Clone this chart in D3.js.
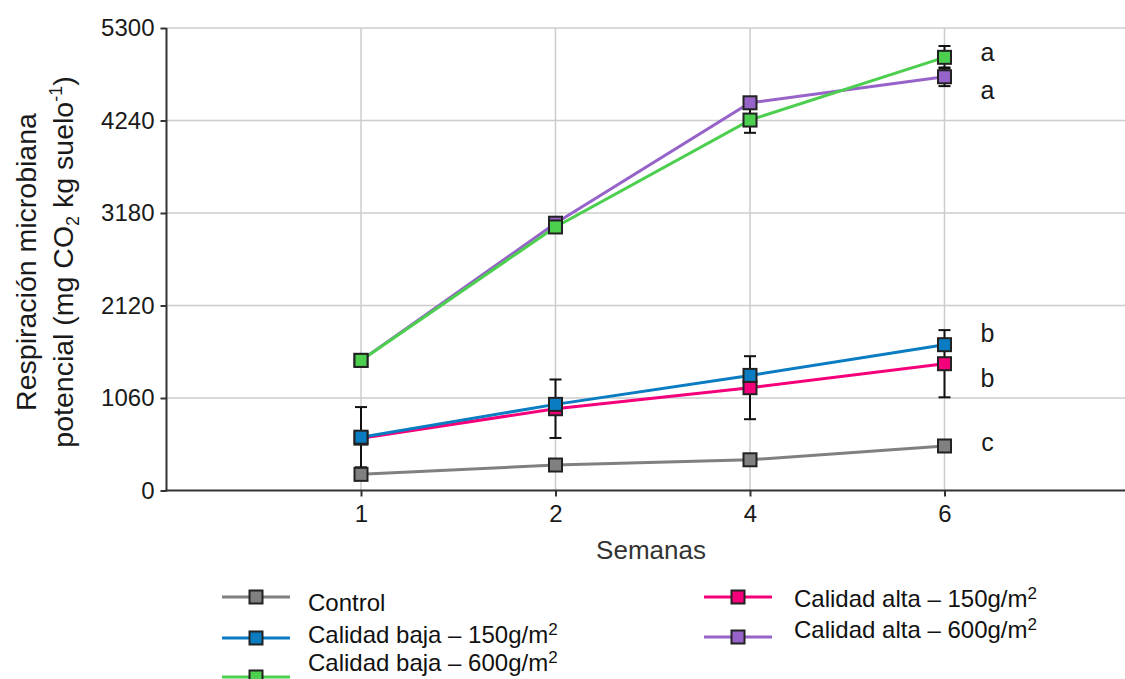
<!DOCTYPE html>
<html>
<head>
<meta charset="utf-8">
<script src="https://cdn.jsdelivr.net/npm/d3@7"></script>
<style>
  html, body { margin: 0; padding: 0; background: #fff; }
  svg { display: block; font-family: "Liberation Sans", Arial, sans-serif; }
</style>
</head>
<body>
<svg id="chart" width="1125" height="679"></svg>
<script>
// ---- data ----
const weeks = ["1", "2", "4", "6"];
const yTicks = [0, 1060, 2120, 3180, 4240, 5300];

const seriesNames = ["Control", "Calidad baja – 150g/m", "Calidad baja – 600g/m", "Calidad alta – 150g/m", "Calidad alta – 600g/m"];
const seriesColors = ["#808080", "#0a7cc1", "#4ccf4f", "#f5007b", "#9664c8"];

const controlValues = [185, 292, 352, 510];
const baja150Values = [611, 987, 1319, 1671];
const baja600Values = [1491, 3020, 4245, 4964];
const alta150Values = [600, 937, 1178, 1453];
const alta600Values = [1491, 3063, 4443, 4741];

const controlErr = [0, 0, 0, 0];
const baja150Err = [345, 0, 0, 0];
const baja600Err = [0, 0, 146, 130];
const alta150Err = [0, 335, 361, 385];
const alta600Err = [0, 0, 0, 107];

const letters = ["a", "a", "b", "b", "c"];
const letterValues = [5025, 4590, 1801, 1290, 551];

// ---- layout ----
const svg = d3.select("#chart");
const plotLeft = 166.5, plotTop = 28, plotBottom = 490.5, step = 194.5;
const x = d3.scalePoint().domain(weeks).range([plotLeft, plotLeft + 5 * step]).padding(1);
const y = d3.scaleLinear().domain([0, 5300]).range([plotBottom, plotTop]);

const series = [
  { name: seriesNames[0], color: seriesColors[0], values: controlValues, err: controlErr },
  { name: seriesNames[1], color: seriesColors[1], values: baja150Values, err: baja150Err },
  { name: seriesNames[2], color: seriesColors[2], values: baja600Values, err: baja600Err },
  { name: seriesNames[3], color: seriesColors[3], values: alta150Values, err: alta150Err },
  { name: seriesNames[4], color: seriesColors[4], values: alta600Values, err: alta600Err }
];
// draw order: control, alta150, baja150, alta600, baja600
const drawOrder = [0, 3, 1, 4, 2];

// gridlines
svg.append("g").selectAll("line").data(yTicks.filter(d => d > 0)).join("line")
  .attr("x1", plotLeft).attr("x2", 1125).attr("y1", d => y(d)).attr("y2", d => y(d))
  .attr("stroke", "#cccccc").attr("stroke-width", 1.5);
svg.append("g").selectAll("line").data(weeks).join("line")
  .attr("x1", d => x(d)).attr("x2", d => x(d)).attr("y1", plotTop).attr("y2", plotBottom)
  .attr("stroke", "#cccccc").attr("stroke-width", 1.5);

// axes
const yAxis = svg.append("g").attr("transform", `translate(${plotLeft},0)`)
  .call(d3.axisLeft(y).tickValues(yTicks).tickSize(6).tickPadding(6).tickFormat(d3.format("d")));
const xAxis = svg.append("g").attr("transform", `translate(0,${plotBottom})`)
  .call(d3.axisBottom(x).tickSize(6).tickPadding(8));
[yAxis, xAxis].forEach(a => {
  a.select(".domain").remove();
  a.selectAll(".tick line").attr("stroke", "#333").attr("stroke-width", 2);
  a.selectAll(".tick text").attr("fill", "#1a1a1a").style("font-size", "24px")
    .style("font-family", "'Liberation Sans', Arial, sans-serif");
});
svg.append("line").attr("x1", plotLeft).attr("x2", plotLeft).attr("y1", plotTop).attr("y2", plotBottom + 1)
  .attr("stroke", "#333").attr("stroke-width", 2);
svg.append("line").attr("x1", plotLeft - 1).attr("x2", 1125).attr("y1", plotBottom).attr("y2", plotBottom)
  .attr("stroke", "#333").attr("stroke-width", 2);

// lines
const line = d3.line().x((d, i) => x(weeks[i])).y(d => y(d));
drawOrder.forEach(k => {
  const s = series[k];
  svg.append("path").datum(s.values).attr("d", line)
    .attr("fill", "none").attr("stroke", s.color).attr("stroke-width", 3);
});

// error bars
drawOrder.forEach(k => {
  const s = series[k];
  const g = svg.append("g").attr("stroke", "#111").attr("stroke-width", 2);
  s.values.forEach((v, i) => {
    const e = s.err[i];
    if (!e) return;
    const cx = x(weeks[i]);
    g.append("line").attr("x1", cx).attr("x2", cx).attr("y1", y(v - e)).attr("y2", y(v + e));
    g.append("line").attr("x1", cx - 6).attr("x2", cx + 6).attr("y1", y(v - e)).attr("y2", y(v - e));
    g.append("line").attr("x1", cx - 6).attr("x2", cx + 6).attr("y1", y(v + e)).attr("y2", y(v + e));
  });
});

// markers
const ms = 13;
drawOrder.forEach(k => {
  const s = series[k];
  svg.append("g").selectAll("rect").data(s.values).join("rect")
    .attr("x", (d, i) => x(weeks[i]) - ms / 2).attr("y", d => y(d) - ms / 2)
    .attr("width", ms).attr("height", ms)
    .attr("fill", s.color).attr("stroke", "#222").attr("stroke-width", 2);
});

// significance letters
svg.append("g").selectAll("text").data(letters).join("text")
  .attr("x", x("6") + 43).attr("y", (d, i) => y(letterValues[i]))
  .attr("dy", "0.35em").attr("text-anchor", "middle")
  .attr("fill", "#1a1a1a").style("font-size", "25px").text(d => d);

// axis titles
svg.append("text").attr("x", 651).attr("y", 559).attr("text-anchor", "middle")
  .attr("fill", "#333").style("font-size", "26px").text("Semanas");

const yt = svg.append("g").attr("transform", "translate(0,262) rotate(-90)");
yt.append("text").attr("x", 0).attr("y", 36).attr("text-anchor", "middle")
  .attr("fill", "#1a1a1a").style("font-size", "28.5px").text("Respiración microbiana");
const t2 = yt.append("text").attr("x", 0).attr("y", 73).attr("text-anchor", "middle")
  .attr("fill", "#1a1a1a").style("font-size", "28.5px");
t2.append("tspan").text("potencial (mg CO");
t2.append("tspan").attr("dy", 6).style("font-size", "18px").text("2");
t2.append("tspan").attr("dy", -6).text(" kg suelo");
t2.append("tspan").attr("dy", -11).style("font-size", "18px").text("-1");
t2.append("tspan").attr("dy", 11).text(")");

// legend
const legendItems = [
  { k: 0, sx: 222, sy: 597, tx: 308, ty: 611, sup: false },
  { k: 1, sx: 222, sy: 638, tx: 308, ty: 643, sup: true },
  { k: 2, sx: 222, sy: 677, tx: 308, ty: 671, sup: true },
  { k: 3, sx: 704, sy: 597, tx: 794, ty: 607, sup: true },
  { k: 4, sx: 704, sy: 637, tx: 794, ty: 638, sup: true }
];
const lg = svg.append("g");
legendItems.forEach(it => {
  const s = series[it.k];
  lg.append("line").attr("x1", it.sx).attr("x2", it.sx + 68).attr("y1", it.sy).attr("y2", it.sy)
    .attr("stroke", s.color).attr("stroke-width", 3);
  lg.append("rect").attr("x", it.sx + 34 - ms / 2).attr("y", it.sy - ms / 2).attr("width", ms).attr("height", ms)
    .attr("fill", s.color).attr("stroke", "#222").attr("stroke-width", 2);
  const t = lg.append("text").attr("x", it.tx).attr("y", it.ty).attr("fill", "#111").style("font-size", "24px");
  t.append("tspan").text(s.name);
  if (it.sup) t.append("tspan").attr("dy", -8).style("font-size", "17px").text("2");
});
</script>
</body>
</html>
